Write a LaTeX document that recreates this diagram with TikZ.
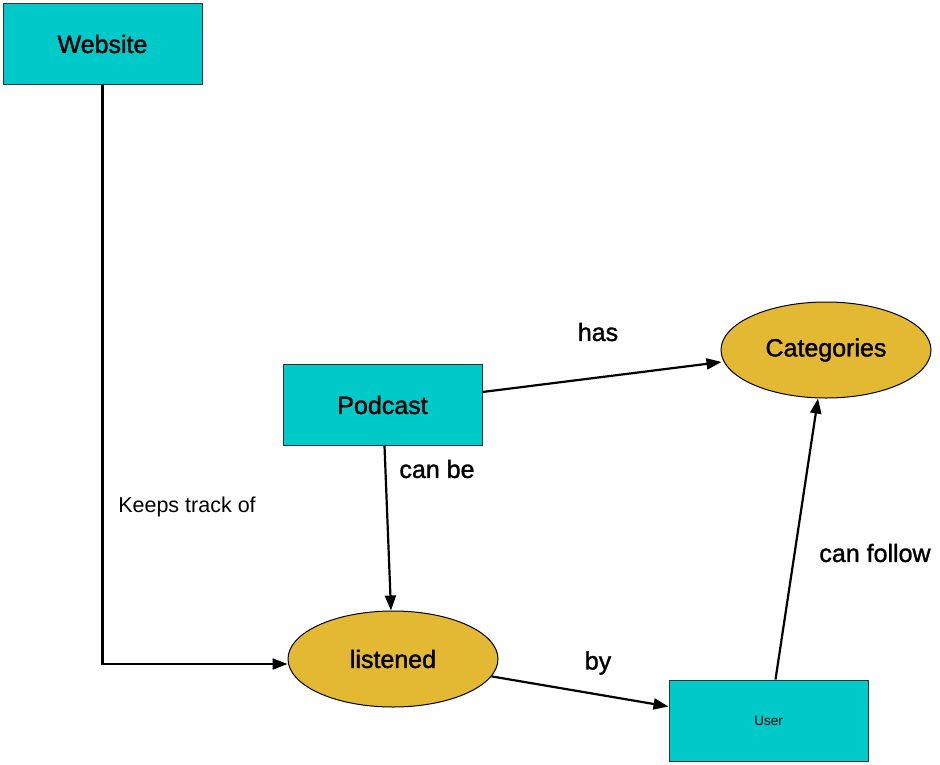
\documentclass[tikz,border=0pt]{standalone}
\usepackage{fontspec}
\setmainfont{Liberation Sans}
\newfontfamily\medfont[FakeBold=1.3]{Liberation Sans}
\usetikzlibrary{arrows.meta,shapes.geometric}
\definecolor{boxcyan}{HTML}{00C9CA}
\definecolor{ovgold}{HTML}{E3B832}
\definecolor{edgegray}{HTML}{333333}
\tikzset{
  entity/.style={draw=edgegray, line width=1pt, fill=boxcyan, rectangle, minimum width=199pt, minimum height=81pt, inner sep=0pt, font=\medfont\fontsize{25}{29}\selectfont},
  rel/.style={draw=black, line width=1pt, fill=ovgold, ellipse, minimum width=210pt, minimum height=96pt, inner sep=0pt, font=\medfont\fontsize{25}{29}\selectfont},
  conn/.style={draw=black, line width=2.2pt, -{Triangle[length=15pt,width=11pt]}},
  lbl/.style={font=\medfont\fontsize{25}{29}\selectfont, inner sep=0pt},
  plainlbl/.style={font=\fontsize{21.5}{25}\selectfont, inner sep=0pt}
}
\begin{document}
\begin{tikzpicture}[x=1pt,y=-1pt]
\useasboundingbox (0,0) rectangle (940,764);
\node[entity] (web) at (102.5,44) {Website};
\node[entity] (pod) at (382.5,405) {Podcast};
\node[entity] (usr) at (768.5,720.5) {\normalfont\fontsize{13.5}{15}\selectfont User};
\node[rel] (cat) at (826,350) {Categories};
\node[rel] (lis) at (393,659) {listened};

\draw[conn] (web.south) |- ([yshift=-5pt]lis.west);
\draw[conn] ([yshift=13pt]pod.east) -- ([yshift=-12pt,xshift=1pt]cat.west);
\draw[conn] ([xshift=2pt]pod.south) -- ([xshift=-2pt]lis.north);
\draw[conn] (lis.-10) -- ([yshift=14pt]usr.west);
\draw[conn] ([xshift=7pt]usr.north) -- ([xshift=-8pt]cat.south);

\node[plainlbl] (lkt) at (187,507) {Keeps track of};
\node[lbl] (lhas) at (598,332) {has};
\node[lbl] (lcb) at (437,469) {can be};
\node[lbl] (lby) at (598,663) {by};
\node[lbl] (lcf) at (875,553) {can follow};
\end{tikzpicture}
\end{document}
